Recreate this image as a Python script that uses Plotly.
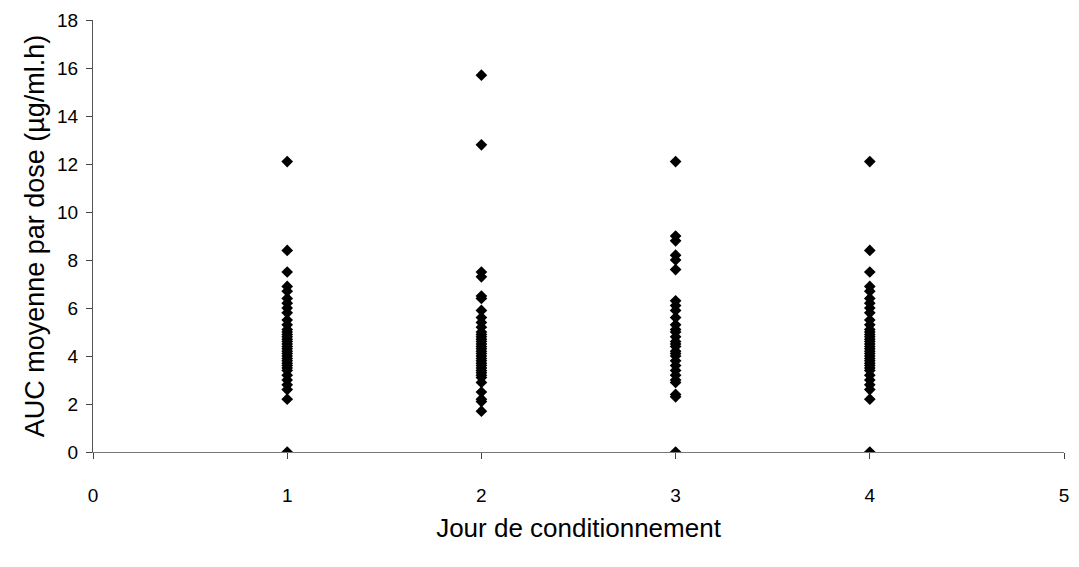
import plotly.graph_objects as go

# AUC values per conditioning day
jour1 = [0.0, 2.2, 2.6, 2.8, 3.0, 3.2, 3.4, 3.5, 3.6, 3.7, 3.8, 3.9, 4.0, 4.1, 4.2, 4.3,
         4.4, 4.5, 4.6, 4.7, 4.8, 4.9, 5.0, 5.1, 5.3, 5.5, 5.8, 6.0, 6.2, 6.4, 6.7, 6.9,
         7.5, 8.4, 12.1]
jour2 = [1.7, 2.1, 2.2, 2.5, 2.9, 3.1, 3.2, 3.3, 3.4, 3.5, 3.6, 3.7, 3.8, 3.9, 4.0, 4.1,
         4.2, 4.3, 4.4, 4.5, 4.6, 4.7, 4.8, 4.9, 5.0, 5.2, 5.4, 5.6, 5.9, 6.4, 6.5, 7.3,
         7.5, 12.8, 15.7]
jour3 = [0.0, 2.3, 2.4, 2.9, 3.0, 3.2, 3.4, 3.6, 3.8, 4.0, 4.1, 4.2, 4.4, 4.5, 4.6, 4.8,
         5.0, 5.1, 5.3, 5.6, 5.9, 6.1, 6.3, 7.6, 8.0, 8.2, 8.8, 9.0, 12.1]
jour4 = [0.0, 2.2, 2.6, 2.8, 3.0, 3.2, 3.4, 3.5, 3.6, 3.7, 3.8, 3.9, 4.0, 4.1, 4.2, 4.3,
         4.4, 4.5, 4.6, 4.7, 4.8, 4.9, 5.0, 5.1, 5.3, 5.5, 5.8, 6.0, 6.2, 6.4, 6.7, 6.9,
         7.5, 8.4, 12.1]

days = [1, 2, 3, 4]
series = [jour1, jour2, jour3, jour4]

xs, ys = [], []
for d, vals in zip(days, series):
    xs += [d] * len(vals)
    ys += vals

fig = go.Figure(go.Scatter(
    x=xs, y=ys, mode="markers",
    marker=dict(symbol="diamond", size=9, color="black"),
    showlegend=False
))

# page body has an 8px margin, so keep the figure inside the window
fig.update_layout(
    width=1063, height=551,
    margin=dict(l=85, r=7, t=12, b=107),
    paper_bgcolor="white", plot_bgcolor="white",
    font=dict(family="Liberation Sans, Arial, sans-serif", color="black"),
    xaxis=dict(
        range=[0, 5], tickvals=[0, 1, 2, 3, 4, 5], ticks="outside", ticklen=6,
        showgrid=False, zeroline=False, showline=True, linecolor="#777",
        tickfont=dict(size=19), ticklabelstandoff=20, ticklabeloverflow="allow",
        automargin=False,
        title=dict(text="Jour de conditionnement", font=dict(size=26), standoff=14),
    ),
    yaxis=dict(
        range=[0, 18], tickvals=list(range(0, 19, 2)), ticks="outside", ticklen=6,
        showgrid=False, zeroline=False, showline=True, linecolor="#555",
        tickfont=dict(size=19), ticklabelstandoff=4, automargin=False,
        title=dict(text="AUC moyenne par dose (µg/ml.h)", font=dict(size=27), standoff=4),
    ),
)

fig.write_html("out.html")
